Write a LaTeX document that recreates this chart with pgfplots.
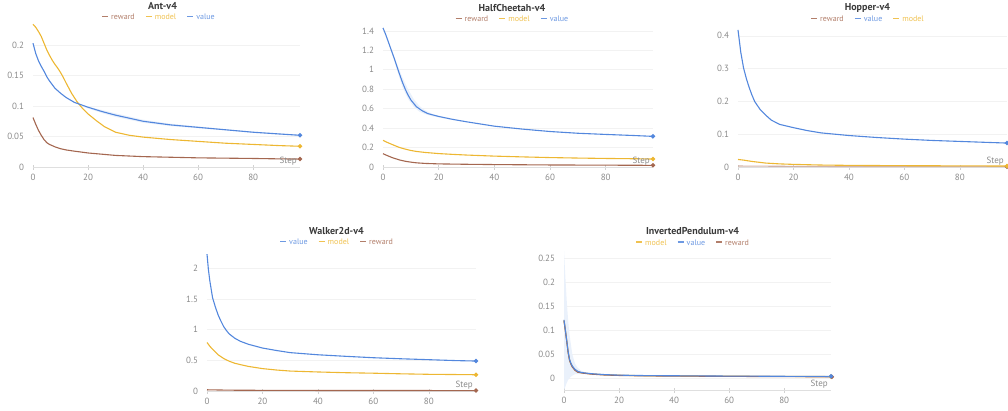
\documentclass[border=0pt]{standalone}
\usepackage{pgfplots}
\pgfplotsset{compat=1.18}
\usepackage{fontspec}
\setmainfont{PT Sans}
\definecolor{cval}{HTML}{5387DD}
\definecolor{cmod}{HTML}{EDB732}
\definecolor{crew}{HTML}{A46750}
\definecolor{tickc}{HTML}{8A8A8A}
\definecolor{titc}{HTML}{3A3A3A}
\newcommand{\lgd}[2]{\textcolor{#1!85!white}{\rule[2.3pt]{6pt}{1.6pt}\hspace{3pt}#2}}
\pgfplotsset{
  wb/.style={
    scale only axis, xmin=0, xmax=97, enlargelimits=false, clip=false,
    axis x line=bottom, axis y line=left,
    x axis line style={draw=gray!25,-},
    y axis line style={draw=none},
    ytick style={draw=none},
    xtick style={draw=gray!35, line width=0.6pt},
    tick align=center, major tick length=5pt,
    xtick={0,20,40,60,80},
    ymajorgrids, grid style={gray!10, line width=0.6pt},
    scaled y ticks=false, scaled x ticks=false,
    /pgf/number format/assume math mode=true,
    yticklabel style={/pgf/number format/fixed, /pgf/number format/precision=2, xshift=-3pt},
    xticklabel style={yshift=-1pt},
    tick label style={font=\fontsize{9}{10}\selectfont, text=tickc},
    every axis plot/.append style={line width=1.1pt, mark=none},
  },
  endpt/.style={only marks, mark=*, mark size=1.6pt, forget plot},
  band/.style={draw=none, fill=cval!12, forget plot, line width=0pt},
}
\newcommand{\steplabel}{\node[anchor=south east, font=\fontsize{9}{10}\selectfont, text=tickc, inner sep=0pt] at (rel axis cs:1,0) [xshift=-3pt, yshift=1.5pt] {Step};}
\begin{document}
\begin{tikzpicture}
\path[use as bounding box] (0,0) rectangle (1008pt,-410pt);

% ---------------- Ant-v4 ----------------
\begin{axis}[wb, at={(33pt,-167pt)}, anchor=south west, width=267pt, height=141pt,
  ymin=0, ymax=0.235, ytick={0,0.05,0.1,0.15,0.2}]
\addplot[band] coordinates {(18,0.101)(25,0.0935)(30,0.088)(40,0.0775)(50,0.071)(60,0.0665)(70,0.062)(80,0.058)(90,0.055)(97,0.053)(97,0.051)(90,0.053)(80,0.056)(70,0.06)(60,0.0635)(50,0.067)(40,0.0725)(30,0.082)(25,0.0885)(18,0.099)} -- cycle;
\addplot[crew] coordinates {(0,0.081)(1,0.07)(2,0.06)(3,0.052)(4,0.045)(5,0.040)(6,0.037)(8,0.033)(10,0.030)(12,0.028)(15,0.026)(20,0.023)(25,0.021)(30,0.019)(40,0.017)(50,0.016)(60,0.015)(70,0.0145)(80,0.014)(90,0.0133)(97,0.013)};
\addplot[cmod] coordinates {(0,0.234)(1,0.229)(2,0.222)(3,0.214)(4,0.203)(5,0.192)(6,0.183)(7,0.175)(8,0.168)(9,0.162)(10,0.155)(11,0.147)(12,0.138)(14,0.121)(16,0.107)(18,0.096)(20,0.087)(23,0.076)(26,0.066)(30,0.057)(35,0.052)(40,0.049)(50,0.045)(60,0.042)(70,0.039)(80,0.037)(90,0.035)(97,0.034)};
\addplot[cval] coordinates {(0,0.203)(1,0.186)(2,0.174)(3,0.165)(4,0.157)(5,0.148)(6,0.141)(8,0.129)(10,0.121)(12,0.114)(15,0.106)(20,0.098)(25,0.091)(30,0.085)(40,0.075)(50,0.069)(60,0.065)(70,0.061)(80,0.057)(90,0.054)(97,0.052)};
\addplot[endpt, crew] coordinates {(97,0.013)};
\addplot[endpt, cmod] coordinates {(97,0.034)};
\addplot[endpt, cval] coordinates {(97,0.052)};
\steplabel
\node[font=\bfseries\fontsize{10}{12}\selectfont, text=titc] at (rel axis cs:0.5,1) [xshift=-4pt, yshift=18pt] {Ant-v4};
\node[font=\fontsize{8}{10}\selectfont] at (rel axis cs:0.5,1) [xshift=-8pt, yshift=7pt] {\lgd{crew}{reward}\hspace{11pt}\lgd{cmod}{model}\hspace{11pt}\lgd{cval}{value}};
\end{axis}

% ---------------- HalfCheetah-v4 ----------------
\begin{axis}[wb, at={(383pt,-167pt)}, anchor=south west, width=270pt, height=141pt,
  ymin=0, ymax=1.45, ytick={0,0.2,0.4,0.6,0.8,1,1.2,1.4}]
\addplot[band] coordinates {(3,1.21)(5,1.06)(7,0.92)(9,0.80)(11,0.70)(13,0.63)(15,0.585)(18,0.54)(22,0.51)(26,0.49)(26,0.48)(22,0.50)(18,0.52)(15,0.545)(13,0.57)(11,0.62)(9,0.70)(7,0.82)(5,1.0)(3,1.19)} -- cycle;
\addplot[crew] coordinates {(0,0.137)(1,0.124)(2,0.112)(3,0.100)(4,0.09)(6,0.072)(8,0.059)(10,0.05)(12,0.043)(15,0.037)(20,0.032)(30,0.028)(40,0.025)(50,0.023)(60,0.021)(70,0.020)(80,0.019)(90,0.018)(97,0.017)};
\addplot[cmod] coordinates {(0,0.274)(1,0.26)(2,0.247)(3,0.235)(4,0.223)(6,0.2)(8,0.184)(10,0.17)(12,0.16)(15,0.15)(20,0.138)(25,0.13)(30,0.123)(40,0.112)(50,0.104)(60,0.097)(70,0.092)(80,0.088)(90,0.085)(97,0.082)};
\addplot[cval] coordinates {(0,1.43)(1,1.36)(2,1.28)(3,1.20)(4,1.12)(5,1.035)(6,0.95)(7,0.87)(8,0.80)(9,0.74)(10,0.69)(12,0.62)(14,0.58)(16,0.55)(20,0.52)(25,0.49)(30,0.465)(40,0.42)(50,0.39)(60,0.365)(70,0.347)(80,0.335)(90,0.324)(97,0.315)};
\addplot[endpt, crew] coordinates {(97,0.017)};
\addplot[endpt, cmod] coordinates {(97,0.082)};
\addplot[endpt, cval] coordinates {(97,0.315)};
\steplabel
\node[font=\bfseries\fontsize{10}{12}\selectfont, text=titc] at (rel axis cs:0.5,1) [xshift=-6pt, yshift=18pt] {HalfCheetah-v4};
\node[font=\fontsize{8}{10}\selectfont] at (rel axis cs:0.5,1) [xshift=-6pt, yshift=7pt] {\lgd{crew}{reward}\hspace{11pt}\lgd{cmod}{model}\hspace{11pt}\lgd{cval}{value}};
\end{axis}

% ---------------- Hopper-v4 ----------------
\begin{axis}[wb, at={(738pt,-167pt)}, anchor=south west, width=269pt, height=141pt,
  ymin=0, ymax=0.43, ytick={0,0.1,0.2,0.3,0.4}]
\addplot[crew!50!white] coordinates {(0,0.003)(10,0.0025)(20,0.002)(40,0.0015)(60,0.0012)(80,0.001)(97,0.001)};
\addplot[cval] coordinates {(0,0.418)(1,0.35)(2,0.302)(3,0.27)(4,0.243)(5,0.22)(6,0.2)(8,0.175)(10,0.158)(12,0.143)(15,0.13)(20,0.12)(25,0.111)(30,0.104)(40,0.096)(50,0.09)(60,0.085)(70,0.081)(80,0.078)(90,0.075)(97,0.073)};
\addplot[cmod] coordinates {(0,0.023)(2,0.021)(5,0.017)(8,0.014)(10,0.012)(15,0.0095)(20,0.008)(30,0.006)(40,0.005)(60,0.004)(80,0.0035)(97,0.003)};
\addplot[endpt, crew] coordinates {(97,0.001)};
\addplot[endpt, cval] coordinates {(97,0.073)};
\addplot[endpt, cmod] coordinates {(97,0.003)};
\steplabel
\node[font=\bfseries\fontsize{10}{12}\selectfont, text=titc] at (rel axis cs:0.5,1) [xshift=-5pt, yshift=18pt] {Hopper-v4};
\node[font=\fontsize{8}{10}\selectfont] at (rel axis cs:0.5,1) [xshift=-5pt, yshift=7pt] {\lgd{crew}{reward}\hspace{11pt}\lgd{cval}{value}\hspace{11pt}\lgd{cmod}{model}};
\end{axis}

% ---------------- Walker2d-v4 ----------------
\begin{axis}[wb, at={(207pt,-391pt)}, anchor=south west, width=269pt, height=140pt,
  ymin=0, ymax=2.28, ytick={0,0.5,1,1.5,2}]
\addplot[cval] coordinates {(0,2.23)(0.5,1.98)(1,1.8)(2,1.52)(3,1.37)(4,1.24)(5,1.14)(6,1.05)(7,0.985)(8,0.93)(10,0.86)(12,0.81)(15,0.76)(20,0.70)(25,0.66)(30,0.625)(40,0.59)(50,0.565)(60,0.542)(70,0.525)(80,0.51)(90,0.495)(97,0.488)};
\addplot[cmod] coordinates {(0,0.79)(1,0.73)(2,0.68)(3,0.635)(4,0.59)(6,0.53)(8,0.485)(10,0.452)(12,0.43)(15,0.4)(20,0.365)(25,0.342)(30,0.325)(40,0.31)(50,0.298)(60,0.29)(70,0.28)(80,0.272)(90,0.268)(97,0.265)};
\addplot[crew] coordinates {(0,0.02)(5,0.016)(10,0.013)(20,0.011)(40,0.009)(60,0.008)(80,0.0075)(97,0.007)};
\addplot[endpt, cval] coordinates {(97,0.488)};
\addplot[endpt, cmod] coordinates {(97,0.265)};
\addplot[endpt, crew] coordinates {(97,0.007)};
\steplabel
\node[font=\bfseries\fontsize{10}{12}\selectfont, text=titc] at (rel axis cs:0.5,1) [xshift=-5pt, yshift=20pt] {Walker2d-v4};
\node[font=\fontsize{8}{10}\selectfont] at (rel axis cs:0.5,1) [xshift=-5pt, yshift=9pt] {\lgd{cval}{value}\hspace{11pt}\lgd{cmod}{model}\hspace{11pt}\lgd{crew}{reward}};
\end{axis}

% ---------------- InvertedPendulum-v4 ----------------
\begin{axis}[wb, at={(564pt,-390pt)}, anchor=south west, width=267pt, height=141.6pt,
  ymin=-0.025, ymax=0.27, ytick={0,0.05,0.1,0.15,0.2,0.25}]
\addplot[band] coordinates {(0,0.265)(0.5,0.21)(1,0.16)(1.5,0.12)(2,0.09)(3,0.05)(4,0.03)(5,0.021)(6,0.016)(8,0.011)(10,0.0095)(10,0.0085)(8,0.0085)(6,0.008)(5,0.008)(4,0.008)(3,0.005)(2,0.0)(1.5,-0.004)(1,-0.01)(0.5,-0.018)(0,-0.025)} -- cycle;
\addplot[cmod] coordinates {(0,0.12)(0.5,0.099)(1,0.077)(1.5,0.054)(2,0.038)(2.5,0.030)(3,0.024)(4,0.017)(5,0.013)(6,0.0115)(7,0.0105)(10,0.0085)(15,0.0066)(20,0.0057)(30,0.0047)(60,0.0037)(97,0.003)};
\addplot[crew] coordinates {(0,0.119)(0.5,0.098)(1,0.076)(1.5,0.053)(2,0.037)(2.5,0.029)(3,0.023)(4,0.016)(5,0.012)(6,0.011)(7,0.010)(10,0.008)(15,0.0062)(20,0.0053)(30,0.0044)(60,0.0034)(97,0.0025)};
\addplot[cval] coordinates {(0,0.121)(0.5,0.1)(1,0.078)(1.5,0.055)(2,0.039)(2.5,0.031)(3,0.025)(4,0.018)(5,0.014)(6,0.012)(7,0.011)(10,0.009)(15,0.007)(20,0.006)(30,0.005)(60,0.004)(97,0.0032)};
\addplot[endpt, cmod] coordinates {(97,0.003)};
\addplot[endpt, crew] coordinates {(97.3,0.0025)};
\addplot[endpt, cval] coordinates {(97,0.0035)};
\steplabel
\node[font=\bfseries\fontsize{10}{12}\selectfont, text=titc] at (rel axis cs:0.5,1) [xshift=-5pt, yshift=17pt] {InvertedPendulum-v4};
\node[font=\fontsize{8}{10}\selectfont] at (rel axis cs:0.5,1) [xshift=-5pt, yshift=6pt] {\lgd{cmod}{model}\hspace{11pt}\lgd{cval}{value}\hspace{11pt}\lgd{crew}{reward}};
\end{axis}
\end{tikzpicture}
\end{document}
